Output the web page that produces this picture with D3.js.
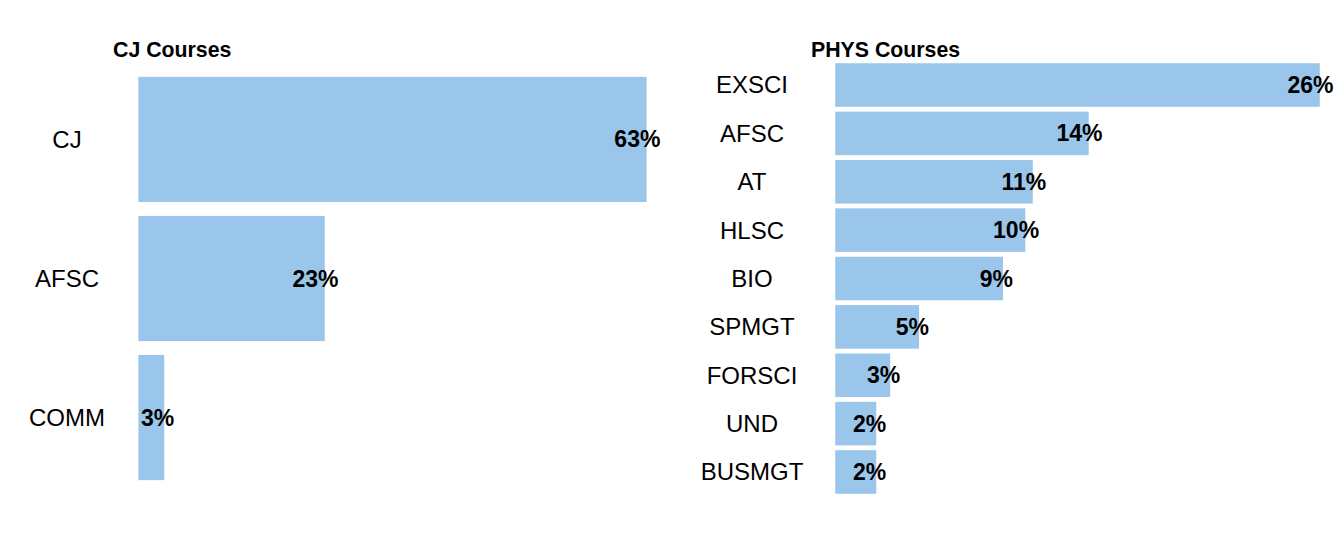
<!DOCTYPE html>
<html>
<head>
<meta charset="utf-8">
<script src="https://cdn.jsdelivr.net/npm/d3@7/dist/d3.min.js"></script>
<style>
  html, body { margin: 0; padding: 0; background: #ffffff; }
  svg { display: block; font-family: "Liberation Sans", Arial, Helvetica, sans-serif; }
</style>
</head>
<body>
<svg id="chart" width="1344" height="537"></svg>
<script>
// ---- data ----
const cjTitle = "CJ Courses";
const cjCategories = ["CJ", "AFSC", "COMM"];
const cjValues = [63.0, 23.1, 3.2];
const cjLabels = ["63%", "23%", "3%"];

const physTitle = "PHYS Courses";
const physCategories = ["EXSCI", "AFSC", "AT", "HLSC", "BIO", "SPMGT", "FORSCI", "UND", "BUSMGT"];
const physValues = [26.0, 13.6, 10.6, 10.2, 9.0, 4.5, 2.95, 2.2, 2.2];
const physLabels = ["26%", "14%", "11%", "10%", "9%", "5%", "3%", "2%", "2%"];

// ---- style / layout ----
const barColor = "#99c6ea";
const svg = d3.select("#chart");

function panel(opts) {
  const { title, cats, vals, labels, left, right, top, bottom, labelCenter } = opts;
  const maxV = d3.max(vals);
  const x = d3.scaleLinear()
    .domain([-0.05 * maxV, 1.05 * maxV])
    .range([left, right]);
  const y = d3.scaleBand()
    .domain(cats)
    .range([top, bottom])
    .paddingInner(0.1)
    .paddingOuter(0.15);

  const g = svg.append("g");

  // bars
  g.selectAll("rect.bar")
    .data(cats)
    .join("rect")
    .attr("class", "bar")
    .attr("x", x(0))
    .attr("y", d => y(d))
    .attr("width", (d, i) => x(vals[i]) - x(0))
    .attr("height", y.bandwidth())
    .attr("fill", barColor);

  // y axis (category labels)
  const ax = g.append("g")
    .attr("transform", `translate(${left},0)`)
    .call(d3.axisLeft(y).tickSize(0).tickPadding(0));
  ax.select(".domain").remove();
  ax.selectAll(".tick text")
    .attr("x", labelCenter - left)
    .attr("text-anchor", "middle")
    .attr("dy", "0.35em")
    .attr("fill", "#000")
    .style("font-size", "24px")
    .style("font-family", "'Liberation Sans', Arial, sans-serif");

  // value labels (hjust ~0.7 at bar end)
  const vl = g.selectAll("text.val")
    .data(cats)
    .join("text")
    .attr("class", "val")
    .attr("y", d => y(d) + y.bandwidth() / 2)
    .attr("dy", "0.35em")
    .attr("text-anchor", "start")
    .style("font-size", "23px")
    .style("font-weight", "bold")
    .attr("fill", "#000")
    .text((d, i) => labels[i]);
  vl.each(function(d, i) {
    const w = this.getComputedTextLength();
    d3.select(this).attr("x", x(vals[i]) - 0.7 * w);
  });

  // title
  g.append("text")
    .attr("x", left)
    .attr("y", top + 0.5)
    .style("font-size", "21.3px")
    .style("font-weight", "bold")
    .attr("fill", "#000")
    .text(title);
}

panel({ title: cjTitle, cats: cjCategories, vals: cjValues, labels: cjLabels,
        left: 113, right: 672, top: 56, bottom: 501, labelCenter: 67 });
panel({ title: physTitle, cats: physCategories, vals: physValues, labels: physLabels,
        left: 811, right: 1344, top: 56, bottom: 501, labelCenter: 752 });
</script>
</body>
</html>
